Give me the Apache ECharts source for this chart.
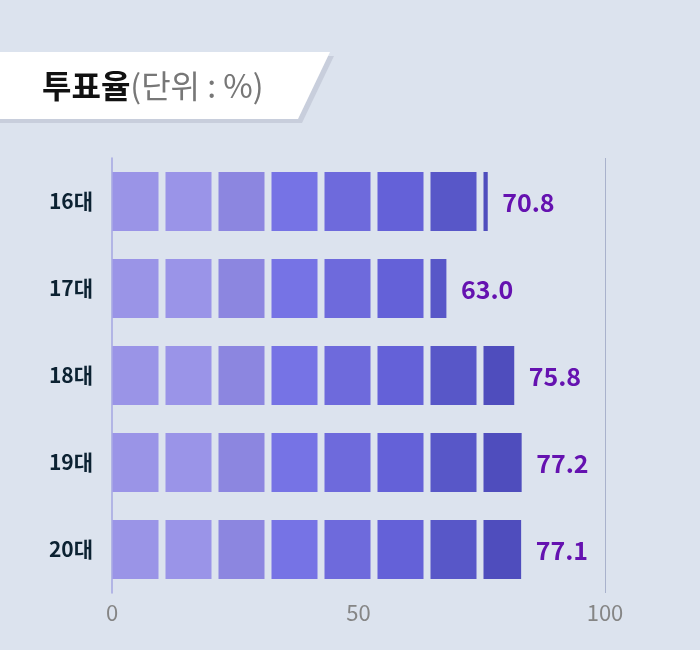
<!DOCTYPE html>
<html>
<head>
<meta charset="utf-8">
<script src="https://cdn.jsdelivr.net/npm/echarts@6/dist/echarts.min.js"></script>
<style>
html,body{margin:0;padding:0;background:#dce3ee;}
#c{width:700px;height:650px;}
</style>
</head>
<body>
<div id="c"></div>
<script>
// ---- data ----
const categories = ['16대', '17대', '18대', '19대', '20대'];
const turnout = [70.8, 63.0, 75.8, 77.2, 77.1];
const axisTicks = [0, 50, 100];
const blockColors = ['#9a94e7', '#9a94e8', '#8c86e0', '#7673e5', '#6e6adc', '#6461d8', '#5857c8', '#4f4dbd'];
const blockStep = 10;      // each block = 10 %p

const FONT = '"Noto Sans CJK KR", "Noto Sans", sans-serif';
const chart = echarts.init(document.getElementById('c'), null, {renderer: 'canvas'});

function renderItem(params, api) {
  const v = api.value(0);
  const c = api.value(1);
  const band = api.size([0, 1])[1];
  const h = band * 59 / 87;
  const center = api.coord([0, c])[1];
  const fill = 46 / 53;
  const children = [];
  let lastEnd = api.coord([0, c])[0];
  for (let k = 0; k < blockColors.length; k++) {
    const s = k * blockStep;
    if (s >= v) break;
    const e = Math.min(s + blockStep * fill, v);
    const p0 = api.coord([s, c]);
    const p1 = api.coord([e, c]);
    children.push({
      type: 'rect',
      shape: {x: p0[0] + 0.5, y: center - h / 2, width: p1[0] - p0[0], height: h},
      style: {fill: blockColors[k]}
    });
    lastEnd = p1[0];
  }
  children.push({
    type: 'text',
    style: {
      x: lastEnd + 15, y: center + 1,
      text: v.toFixed(1),
      fill: '#6512b0',
      fontSize: 25, fontWeight: 'bold', fontFamily: FONT,
      align: 'left', verticalAlign: 'middle'
    }
  });
  return {type: 'group', children: children};
}

const option = {
  backgroundColor: '#dce3ee',
  animation: false,
  graphic: [
    {type: 'polygon', shape: {points: [[0, 56], [334, 56], [302, 123], [0, 123]]}, style: {fill: '#c8cedc'}, z: 1},
    {type: 'polygon', shape: {points: [[0, 52], [330, 52], [298, 119], [0, 119]]}, style: {fill: '#ffffff'}, z: 2},
    {
      type: 'text', left: 42, top: 70, z: 3,
      style: {
        text: '{a|투표율}{b|(단위 : %)}',
        rich: {
          a: {fontSize: 32, fontWeight: 'bold', fill: '#111111', fontFamily: FONT},
          b: {fontSize: 32, fontWeight: 'normal', fill: '#777777', fontFamily: FONT}
        }
      }
    }
  ],
  grid: {left: 112, top: 158, width: 493, height: 435},
  xAxis: [
    {
      type: 'value', min: axisTicks[0], max: axisTicks[axisTicks.length - 1], interval: axisTicks[1] - axisTicks[0],
      axisLine: {show: false}, axisTick: {show: false},
      axisLabel: {color: '#858585', fontSize: 22, fontFamily: FONT, margin: 9},
      splitLine: {show: true, lineStyle: {color: ['transparent', 'transparent', '#a9b2cc'], width: 1}}
    },
    {type: 'value', min: 0, max: 493 / 5.3, show: false}
  ],
  yAxis: {
    type: 'category', data: categories, inverse: true,
    axisTick: {show: false},
    axisLine: {show: true, lineStyle: {color: '#a4a6e2', width: 1.5}},
    axisLabel: {color: '#0c2232', fontSize: 21, fontWeight: 'bold', fontFamily: FONT, margin: 19},
    splitLine: {show: false}
  },
  series: [{
    type: 'custom',
    xAxisIndex: 1,
    yAxisIndex: 0,
    renderItem: renderItem,
    encode: {x: 0, y: 1},
    data: turnout.map((v, i) => [v, i])
  }]
};
chart.setOption(option);
</script>
</body>
</html>
